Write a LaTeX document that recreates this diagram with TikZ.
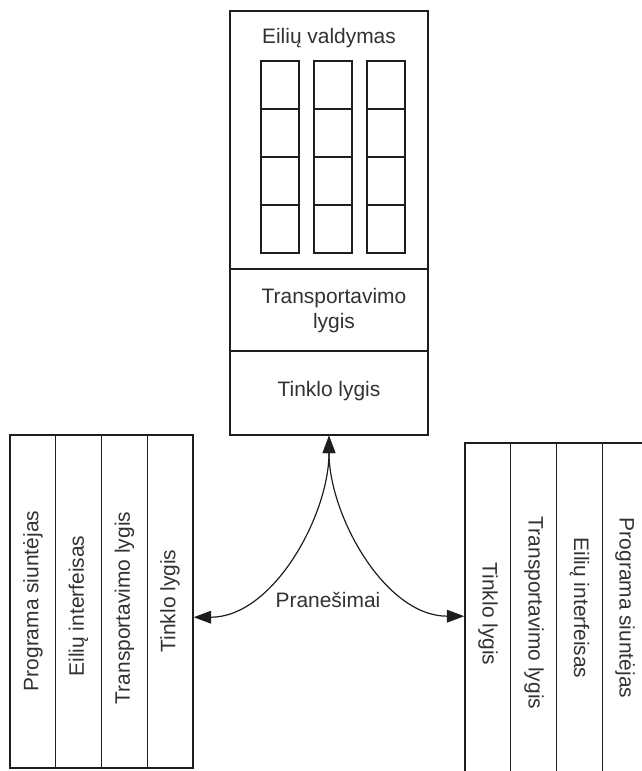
\documentclass[tikz,border=0pt]{standalone}
\usepackage{fontspec}
\setmainfont{Liberation Sans}
\usetikzlibrary{arrows.meta,calc}
\definecolor{linec}{RGB}{30,30,30}
\definecolor{textc}{RGB}{50,50,50}
\begin{document}
\begin{tikzpicture}[x=0.75pt,y=-0.75pt,
  panel/.style={draw=linec, line width=1.1pt, rectangle, inner sep=0pt, fill=white},
  cell/.style={draw=linec, line width=1.1pt, rectangle, inner sep=0pt,
    minimum width={38*0.75pt}, minimum height={48*0.75pt}},
  divider/.style={draw=linec, line width=1.1pt},
  lbl/.style={text=textc, font=\fontsize{15.7pt}{18.8pt}\selectfont, align=center, inner sep=0pt},
  conn/.style={draw=linec, line width=0.9pt,
    {Triangle[length=13pt,width=9.5pt]}-{Triangle[length=13pt,width=9.5pt]}}
]
\useasboundingbox (0,0) rectangle (642,771);

% central node: queue management over transport and network layers
\node[panel, minimum width={198*0.75pt}, minimum height={424*0.75pt}] (top) at (329,223) {};
\draw[divider] (top.west |- 0,269) -- (top.east |- 0,269);
\draw[divider] (top.west |- 0,351) -- (top.east |- 0,351);
\node[lbl] (qtitle) at (329,38) {Eilių valdymas};
\foreach \cx/\col in {280/a, 333/b, 386/c}{
  \foreach \r in {0,1,2,3}{
    \node[cell] (q\col\r) at (\cx, 85+48*\r) {};
  }
}
\node[lbl] (ttrans) at (334,311) {Transportavimo\\lygis};
\node[lbl] (tnet) at (329,391) {Tinklo lygis};

% sender stack on the left
\node[panel, minimum width={183*0.75pt}, minimum height={333*0.75pt}] (left) at (101.5,601.5) {};
\foreach \k in {1,2,3}{
  \draw[divider] ($(left.north west)!\k/4!(left.north east)$) -- ($(left.south west)!\k/4!(left.south east)$);
}
\node[lbl, rotate=90] (l1) at (33,601) {Programa siuntėjas};
\node[lbl, rotate=90] (l2) at (78.5,606) {Eilių interfeisas};
\node[lbl, rotate=90] (l3) at (124.5,608) {Transportavimo lygis};
\node[lbl, rotate=90] (l4) at (170,601) {Tinklo lygis};

% receiver stack on the right
\node[panel, minimum width={183*0.75pt}, minimum height={333*0.75pt}] (right) at (556.5,609.5) {};
\foreach \k in {1,2,3}{
  \draw[divider] ($(right.north west)!\k/4!(right.north east)$) -- ($(right.south west)!\k/4!(right.south east)$);
}
\node[lbl, rotate=-90] (r1) at (488,614) {Tinklo lygis};
\node[lbl, rotate=-90] (r2) at (534,613) {Transportavimo lygis};
\node[lbl, rotate=-90] (r3) at (579.5,608) {Eilių interfeisas};
\node[lbl, rotate=-90] (r4) at (625,608) {Programa siuntėjas};

% message flows
\coordinate (lin) at ($(left.north east)!0.547!(left.south east)$);
\coordinate (rin) at ($(right.north west)!0.52!(right.south west)$);
\draw[conn] (lin) to[out=0, in=-90, looseness=0.9] (top.south);
\draw[conn] (rin) to[out=180, in=-90, looseness=0.9] (top.south);
\node[lbl] (msg) at (328,600) {Pranešimai};
\end{tikzpicture}
\end{document}
